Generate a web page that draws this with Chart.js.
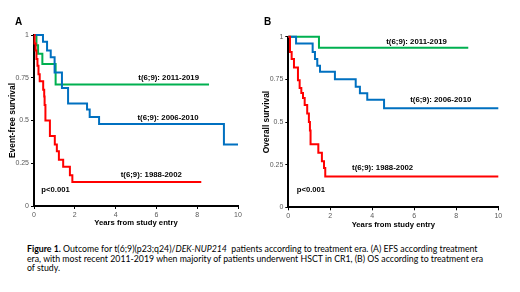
<!DOCTYPE html>
<html>
<head>
<meta charset="utf-8">
<script src="https://cdn.jsdelivr.net/npm/chart.js@4.4.1/dist/chart.umd.min.js"></script>
<style>
  body { margin: 0; background: #fff; width: 520px; height: 292px; overflow: hidden; position: relative; }
  .panel { position: absolute; top: 0; }
  #panelA { left: 0; }
  #panelB { left: 260px; }
  .letter { position: absolute; font: bold 10px "Liberation Sans", Arial, sans-serif; color: #000; }
  #caption { position: absolute; left: 27px; top: 244px; font: 8.75px Lato, sans-serif; line-height: 9.6px; white-space: nowrap; color: #000; }
</style>
</head>
<body>
<div class="panel" id="panelA"><canvas id="efs" width="260" height="235"></canvas></div>
<div class="panel" id="panelB"><canvas id="os" width="260" height="235"></canvas></div>
<div class="letter" style="left:15px;top:16px">A</div>
<div class="letter" style="left:264px;top:16px">B</div>
<div id="caption"><b>Figure 1.</b> Outcome for t(6;9)(p23;q24)/<i>DEK-NUP214</i>&nbsp; patients according to treatment era. (A) EFS according treatment<br>era, with most recent 2011-2019 when majority of patients underwent HSCT in CR1, (B) OS according to treatment era<br>of study.</div>

<script>
// tick labels
const xTicks = [0, 2, 4, 6, 8, 10];
const yTicks = [0, 0.25, 0.5, 0.75, 1];

// panel A: event-free survival (years, survival)
const efsRecentT = [0, 0.12, 0.2, 0.41, 1.06, 8.58];
const efsRecentS = [1, 0.94, 0.89, 0.83, 0.71, 0.71];
const efsMidT = [0, 0.44, 0.64, 0.82, 1.01, 1.37, 1.67, 2.6, 2.73, 3.19, 9.31, 10];
const efsMidS = [1, 0.96, 0.91, 0.87, 0.78, 0.69, 0.60, 0.565, 0.52, 0.48, 0.36, 0.36];
const efsOldT = [0, 0.03, 0.08, 0.12, 0.17, 0.22, 0.28, 0.45, 0.5, 0.52, 0.56, 0.78, 1.02, 1.12, 1.22, 1.43, 1.76, 1.88, 8.2];
const efsOldS = [1, 0.95, 0.91, 0.86, 0.82, 0.77, 0.73, 0.68, 0.64, 0.59, 0.50, 0.41, 0.36, 0.32, 0.27, 0.23, 0.18, 0.14, 0.14];

// panel B: overall survival
const osRecentT = [0, 1.46, 8.57];
const osRecentS = [1, 0.935, 0.935];
const osMidT = [0, 0.37, 1.16, 1.27, 1.38, 1.51, 2.22, 3.21, 3.41, 3.76, 4.56, 10];
const osMidS = [1, 0.96, 0.91, 0.87, 0.83, 0.795, 0.75, 0.707, 0.668, 0.63, 0.58, 0.58];
const osOldT = [0, 0.08, 0.16, 0.27, 0.46, 0.54, 0.62, 0.7, 0.78, 0.9, 0.98, 1.03, 1.06, 1.43, 1.6, 1.7, 1.76, 10];
const osOldS = [1, 0.91, 0.87, 0.82, 0.745, 0.70, 0.67, 0.64, 0.60, 0.55, 0.50, 0.45, 0.37, 0.32, 0.27, 0.23, 0.18, 0.18];

const eraNames = ["t(6;9): 2011-2019", "t(6;9): 2006-2010", "t(6;9): 1988-2002"];
const pValue = "p<0.001";

const GREEN = "#00B050", BLUE = "#0070C0", RED = "#FF0000";
const FONT = '"Liberation Sans", Arial, sans-serif';

// draws the text labels next to the curves, placed in data units
const curveLabels = {
  id: "curveLabels",
  afterDatasetsDraw(chart, args, opts) {
    const { ctx, scales } = chart;
    ctx.save();
    ctx.fillStyle = "#000";
    ctx.textBaseline = "middle";
    opts.items.forEach(item => {
      ctx.font = "bold " + item.size + "px " + FONT;
      ctx.textAlign = item.align || "center";
      ctx.fillText(item.text, scales.x.getPixelForValue(item.x), scales.y.getPixelForValue(item.y));
    });
    ctx.restore();
  }
};

function series(t, s, color) {
  return {
    data: t.map((x, i) => ({ x: x, y: s[i] })),
    borderColor: color,
    borderWidth: 2,
    stepped: "before",
    pointRadius: 0,
    fill: false,
    clip: false
  };
}

function makeChart(id, cfg) {
  return new Chart(document.getElementById(id), {
    type: "line",
    data: { datasets: cfg.datasets },
    options: {
      responsive: false,
      animation: false,
      layout: { padding: cfg.padding },
      plugins: {
        legend: { display: false },
        tooltip: { enabled: false },
        curveLabels: { items: cfg.labels }
      },
      scales: {
        x: {
          type: "linear",
          min: 0,
          max: 10,
          afterFit: s => { s.height = cfg.xHeight; },
          afterBuildTicks: s => { s.ticks = xTicks.map(v => ({ value: v })); },
          ticks: { color: "#595959", font: { family: FONT, size: 7 }, padding: 2, maxRotation: 0 },
          grid: { drawOnChartArea: false, tickLength: 3, color: "#000", lineWidth: 1 },
          border: { color: "#000", width: 2 },
          title: { display: true, text: "Years from study entry", color: "#000", font: { family: FONT, size: 7.7, weight: "bold" }, padding: { top: 0, bottom: 0 } }
        },
        y: {
          min: 0,
          max: 1,
          afterFit: s => { s.width = cfg.yWidth; },
          afterBuildTicks: s => { s.ticks = yTicks.map(v => ({ value: v })); },
          ticks: { color: "#595959", font: { family: FONT, size: 7 }, padding: 2, callback: v => String(v) },
          grid: { drawOnChartArea: false, tickLength: 3, color: "#000", lineWidth: 1 },
          border: { color: "#000", width: 2 },
          title: { display: true, text: cfg.yTitle, color: "#000", font: { family: FONT, size: 8.4, weight: "bold" }, padding: { top: cfg.yTitlePad, bottom: 0 } }
        }
      }
    },
    plugins: [curveLabels]
  });
}

makeChart("efs", {
  yTitle: "Event-free survival",
  yTitlePad: 8,
  yWidth: 34,
  xHeight: 21.5,
  padding: { left: 0, right: 22, top: 35, bottom: 7.5 },
  datasets: [
    series(efsOldT, efsOldS, RED),
    series(efsMidT, efsMidS, BLUE),
    series(efsRecentT, efsRecentS, GREEN)
  ],
  labels: [
    { text: eraNames[0], x: 6.6, y: 0.75, size: 7.8 },
    { text: eraNames[1], x: 6.57, y: 0.515, size: 7.8 },
    { text: eraNames[2], x: 5.75, y: 0.185, size: 7.8 },
    { text: pValue, x: 0.36, y: 0.094, size: 7.7, align: "left" }
  ]
});

makeChart("os", {
  yTitle: "Overall survival",
  yTitlePad: 2,
  yWidth: 28.3,
  xHeight: 21.9,
  padding: { left: 0, right: 21.7, top: 36.7, bottom: 5.8 },
  datasets: [
    series(osOldT, osOldS, RED),
    series(osMidT, osMidS, BLUE),
    series(osRecentT, osRecentS, GREEN)
  ],
  labels: [
    { text: eraNames[0], x: 6.11, y: 0.97, size: 7.8 },
    { text: eraNames[1], x: 7.26, y: 0.63, size: 7.8 },
    { text: eraNames[2], x: 4.49, y: 0.234, size: 7.8 },
    { text: pValue, x: 0.4, y: 0.10, size: 7.7, align: "left" }
  ]
});
</script>
</body>
</html>
